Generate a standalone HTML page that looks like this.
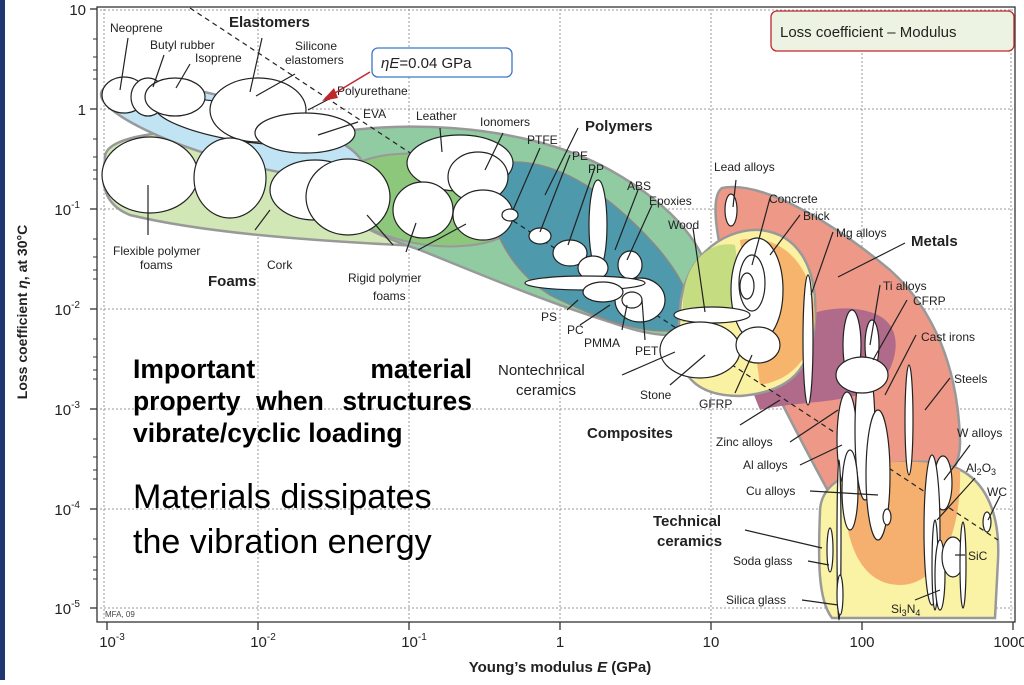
<!DOCTYPE html>
<html><head><meta charset="utf-8"><style>
html,body{margin:0;padding:0;background:#fff;}
body{width:1024px;height:680px;overflow:hidden;position:relative;font-family:"Liberation Sans",sans-serif;}
svg text{font-family:"Liberation Sans",sans-serif;}
</style></head><body>
<svg width="1024" height="680" viewBox="0 0 1024 680" xmlns="http://www.w3.org/2000/svg">
<rect x="0" y="0" width="5" height="680" fill="#1f3670"/>
<g stroke="#999" stroke-dasharray="2,2" stroke-width="1">
<line x1="258" y1="9" x2="258" y2="620"/><line x1="409" y1="9" x2="409" y2="620"/><line x1="560" y1="9" x2="560" y2="620"/><line x1="711" y1="9" x2="711" y2="620"/><line x1="862" y1="9" x2="862" y2="620"/>
<line x1="100" y1="109" x2="1013" y2="109"/><line x1="100" y1="209" x2="1013" y2="209"/><line x1="100" y1="309" x2="1013" y2="309"/><line x1="100" y1="409" x2="1013" y2="409"/><line x1="100" y1="509" x2="1013" y2="509"/><line x1="100" y1="608" x2="1013" y2="608"/>
<line x1="100" y1="10" x2="1013" y2="10"/><line x1="1011" y1="9" x2="1011" y2="620"/><line x1="104" y1="9" x2="104" y2="620"/>
</g>
<rect x="97" y="7" width="918" height="615" fill="none" stroke="#333" stroke-width="1.3"/>
<g stroke="#333" stroke-width="1.3">
<line x1="90" y1="9" x2="97" y2="9"/><line x1="90" y1="109" x2="97" y2="109"/><line x1="90" y1="209" x2="97" y2="209"/><line x1="90" y1="309" x2="97" y2="309"/><line x1="90" y1="409" x2="97" y2="409"/><line x1="90" y1="509" x2="97" y2="509"/><line x1="90" y1="608" x2="97" y2="608"/>
<line x1="107" y1="622" x2="107" y2="630"/><line x1="258" y1="622" x2="258" y2="630"/><line x1="409" y1="622" x2="409" y2="630"/><line x1="560" y1="622" x2="560" y2="630"/><line x1="711" y1="622" x2="711" y2="630"/><line x1="862" y1="622" x2="862" y2="630"/><line x1="1013" y1="622" x2="1013" y2="630"/>
</g>
<g stroke="#333" stroke-width="1">
<line x1="93" y1="39" x2="97" y2="39"/><line x1="93" y1="57" x2="97" y2="57"/><line x1="93" y1="70" x2="97" y2="70"/><line x1="93" y1="79" x2="97" y2="79"/>
<line x1="93" y1="139" x2="97" y2="139"/><line x1="93" y1="157" x2="97" y2="157"/><line x1="93" y1="170" x2="97" y2="170"/><line x1="93" y1="179" x2="97" y2="179"/>
<line x1="93" y1="239" x2="97" y2="239"/><line x1="93" y1="257" x2="97" y2="257"/><line x1="93" y1="270" x2="97" y2="270"/><line x1="93" y1="279" x2="97" y2="279"/>
<line x1="93" y1="339" x2="97" y2="339"/><line x1="93" y1="357" x2="97" y2="357"/><line x1="93" y1="370" x2="97" y2="370"/><line x1="93" y1="379" x2="97" y2="379"/>
<line x1="93" y1="439" x2="97" y2="439"/><line x1="93" y1="457" x2="97" y2="457"/><line x1="93" y1="470" x2="97" y2="470"/><line x1="93" y1="479" x2="97" y2="479"/>
<line x1="93" y1="539" x2="97" y2="539"/><line x1="93" y1="557" x2="97" y2="557"/><line x1="93" y1="570" x2="97" y2="570"/><line x1="93" y1="579" x2="97" y2="579"/>
</g>
<g font-size="15" fill="#222" text-anchor="end">
<text x="86" y="15">10</text><text x="86" y="115">1</text>
<text x="80" y="215">10<tspan font-size="10" dy="-7">-1</tspan></text>
<text x="80" y="315">10<tspan font-size="10" dy="-7">-2</tspan></text>
<text x="80" y="415">10<tspan font-size="10" dy="-7">-3</tspan></text>
<text x="80" y="515">10<tspan font-size="10" dy="-7">-4</tspan></text>
<text x="80" y="614">10<tspan font-size="10" dy="-7">-5</tspan></text>
</g>
<g font-size="15" fill="#222" text-anchor="middle">
<text x="112" y="647">10<tspan font-size="10" dy="-7">-3</tspan></text>
<text x="263" y="647">10<tspan font-size="10" dy="-7">-2</tspan></text>
<text x="414" y="647">10<tspan font-size="10" dy="-7">-1</tspan></text>
<text x="560" y="647">1</text><text x="711" y="647">10</text><text x="862" y="647">100</text><text x="1010" y="647">1000</text>
</g>
<text x="560" y="672" font-size="15" font-weight="bold" text-anchor="middle" fill="#222">Young’s modulus <tspan font-style="italic">E</tspan> (GPa)</text>
<text transform="translate(27,312) rotate(-90)" font-size="14" font-weight="bold" text-anchor="middle" fill="#222">Loss coefficient <tspan font-style="italic">η</tspan>, at 30°C</text>

<path d="M105,160 C100,130 200,125 320,135 C420,145 500,170 515,205 C520,240 480,250 400,245 C300,240 200,232 130,215 C105,205 100,185 105,160 Z" fill="#d2e7b6" stroke="#999" stroke-width="2.5"/>
<path d="M300,140 C380,118 520,120 610,170 C690,215 725,270 705,320 C695,340 660,340 610,322 C540,300 470,270 420,250 C360,230 300,200 300,140 Z" fill="#90cba2" stroke="#999" stroke-width="2.5"/>
<ellipse cx="430" cy="200" rx="95" ry="45" transform="rotate(8 430 200)" fill="#8cc77c" stroke="#999" stroke-width="2"/>
<path d="M490,165 C550,150 610,195 655,245 C690,285 700,320 680,330 C640,336 590,315 550,295 C510,270 480,220 490,165 Z" fill="#4e9aac" stroke="#888" stroke-width="1.5"/>
<ellipse cx="232" cy="130" rx="136" ry="30" transform="rotate(16 232 130)" fill="#c0e4f4" stroke="#999" stroke-width="2.5"/>
<path d="M722,188 C760,180 830,220 890,270 C935,310 958,370 960,440 C962,480 920,520 870,520 L833,500 C800,440 770,380 745,330 C725,280 705,200 722,188 Z" fill="#ee9888" stroke="#999" stroke-width="2.5"/>
<path d="M740,360 C780,318 830,300 870,312 C905,322 900,360 880,385 C850,405 800,400 760,410 Z" fill="#b06a8a"/>
<path d="M680,315 C680,262 720,228 760,230 C800,234 818,270 815,320 C812,370 790,392 740,396 C690,396 672,370 680,315 Z" fill="#fbf1a2" stroke="#999" stroke-width="2.5"/>
<path d="M740,240 C780,232 815,265 815,320 C812,360 790,380 760,385 Z" fill="#f6b46c"/>
<path d="M683,300 C685,262 710,240 735,245 L745,320 L682,322 Z" fill="#c6dc80"/>
<path d="M820,512 C820,472 880,460 930,462 C990,466 1000,520 998,560 L995,618 L832,618 C818,600 818,560 820,512 Z" fill="#faf3a5" stroke="#999" stroke-width="2.5"/>
<path d="M845,470 C880,460 930,458 960,470 C962,530 940,585 900,585 C860,585 840,540 845,470 Z" fill="#f5b070"/>

<line x1="190" y1="8" x2="998" y2="540" stroke="#222" stroke-width="1.2" stroke-dasharray="5,4"/>

<g fill="#fff" stroke="#222" stroke-width="1.2">
<ellipse cx="235" cy="122" rx="80" ry="18" transform="rotate(10 235 122)"/>
<ellipse cx="124" cy="95" rx="22" ry="18"/>
<ellipse cx="148" cy="97" rx="17" ry="19"/>
<ellipse cx="175" cy="97" rx="30" ry="19"/>
<ellipse cx="258" cy="110" rx="48" ry="32"/>
<ellipse cx="305" cy="133" rx="50" ry="20"/>
<ellipse cx="150" cy="175" rx="48" ry="38"/>
<ellipse cx="230" cy="178" rx="36" ry="40"/>
<ellipse cx="315" cy="190" rx="45" ry="30"/>
<ellipse cx="348" cy="197" rx="42" ry="38"/>
<ellipse cx="460" cy="163" rx="53" ry="28"/>
<ellipse cx="478" cy="177" rx="30" ry="25"/>
<ellipse cx="423" cy="210" rx="30" ry="28"/>
<ellipse cx="483" cy="215" rx="30" ry="25"/>
<ellipse cx="510" cy="215" rx="8" ry="6"/>
<ellipse cx="540" cy="236" rx="11" ry="8"/>
<ellipse cx="598" cy="225" rx="9" ry="45"/>
<ellipse cx="570" cy="253" rx="17" ry="13"/>
<ellipse cx="593" cy="268" rx="15" ry="12"/>
<ellipse cx="630" cy="265" rx="12" ry="14"/>
<ellipse cx="640" cy="300" rx="25" ry="22"/>
<ellipse cx="585" cy="283" rx="60" ry="7"/>
<ellipse cx="603" cy="292" rx="20" ry="10"/>
<ellipse cx="632" cy="300" rx="10" ry="8"/>
<ellipse cx="731" cy="210" rx="6" ry="16"/>
<ellipse cx="757" cy="290" rx="26" ry="52"/>
<ellipse cx="752" cy="283" rx="13" ry="28"/>
<ellipse cx="747" cy="286" rx="7" ry="13"/>
<ellipse cx="712" cy="315" rx="38" ry="8"/>
<ellipse cx="700" cy="350" rx="40" ry="28"/>
<ellipse cx="758" cy="345" rx="22" ry="18"/>
<ellipse cx="808" cy="340" rx="5" ry="65"/>
<ellipse cx="852" cy="345" rx="9" ry="35"/>
<ellipse cx="872" cy="345" rx="7" ry="25"/>
<ellipse cx="847" cy="440" rx="10" ry="48"/>
<ellipse cx="865" cy="430" rx="10" ry="70"/>
<ellipse cx="850" cy="490" rx="8" ry="40"/>
<ellipse cx="878" cy="475" rx="12" ry="65"/>
<ellipse cx="887" cy="517" rx="4" ry="8"/>
<ellipse cx="862" cy="375" rx="26" ry="18"/>
<ellipse cx="909" cy="420" rx="4" ry="55"/>
<ellipse cx="943" cy="483" rx="9" ry="27"/>
<ellipse cx="932" cy="530" rx="8" ry="75"/>
<ellipse cx="935" cy="565" rx="3" ry="45"/>
<ellipse cx="940" cy="575" rx="5" ry="35"/>
<ellipse cx="953" cy="557" rx="11" ry="20"/>
<ellipse cx="963" cy="565" rx="3" ry="43"/>
<ellipse cx="987" cy="522" rx="4" ry="10"/>
<ellipse cx="830" cy="550" rx="3" ry="22"/>
<ellipse cx="839" cy="540" rx="2" ry="80"/>
<ellipse cx="840" cy="595" rx="3" ry="20"/>
</g>

<g stroke="#222" stroke-width="1.2">
<line x1="128" y1="38" x2="120" y2="90"/><line x1="164" y1="55" x2="153" y2="87"/><line x1="190" y1="64" x2="176" y2="88"/>
<line x1="262" y1="38" x2="250" y2="92"/><line x1="295" y1="74" x2="256" y2="96"/><line x1="331" y1="98" x2="308" y2="110"/><line x1="358" y1="122" x2="318" y2="135"/>
<line x1="440" y1="128" x2="442" y2="152"/><line x1="503" y1="133" x2="485" y2="170"/><line x1="540" y1="148" x2="513" y2="210"/>
<line x1="578" y1="128" x2="545" y2="195"/><line x1="570" y1="155" x2="540" y2="232"/><line x1="595" y1="167" x2="568" y2="245"/><line x1="638" y1="190" x2="615" y2="250"/><line x1="652" y1="205" x2="627" y2="260"/>
<line x1="693" y1="228" x2="705" y2="312"/>
<line x1="148" y1="235" x2="148" y2="185"/><line x1="255" y1="230" x2="270" y2="210"/>
<line x1="393" y1="245" x2="367" y2="215"/><line x1="406" y1="252" x2="416" y2="223"/><line x1="418" y1="250" x2="466" y2="224"/>
<line x1="567" y1="310" x2="578" y2="300"/><line x1="580" y1="325" x2="610" y2="305"/><line x1="622" y1="330" x2="627" y2="305"/><line x1="645" y1="340" x2="642" y2="300"/>
<line x1="622" y1="375" x2="675" y2="352"/><line x1="670" y1="385" x2="705" y2="355"/><line x1="735" y1="393" x2="752" y2="355"/><line x1="740" y1="425" x2="780" y2="400"/>
<line x1="736" y1="180" x2="733" y2="207"/><line x1="770" y1="198" x2="752" y2="265"/><line x1="800" y1="215" x2="770" y2="255"/><line x1="833" y1="232" x2="811" y2="295"/><line x1="905" y1="243" x2="838" y2="277"/>
<line x1="880" y1="285" x2="870" y2="345"/><line x1="907" y1="300" x2="873" y2="360"/><line x1="916" y1="335" x2="885" y2="395"/><line x1="950" y1="378" x2="925" y2="410"/>
<line x1="790" y1="442" x2="838" y2="410"/><line x1="800" y1="465" x2="842" y2="445"/><line x1="810" y1="491" x2="878" y2="495"/>
<line x1="970" y1="445" x2="944" y2="480"/><line x1="975" y1="478" x2="937" y2="520"/><line x1="1000" y1="496" x2="988" y2="520"/>
<line x1="965" y1="555" x2="955" y2="555"/><line x1="915" y1="600" x2="940" y2="590"/>
<line x1="745" y1="530" x2="822" y2="548"/><line x1="808" y1="561" x2="829" y2="565"/><line x1="802" y1="600" x2="838" y2="605"/>
</g>

<g font-size="12" fill="#222">
<text x="110" y="32">Neoprene</text><text x="150" y="49">Butyl rubber</text><text x="195" y="62">Isoprene</text>
<text x="295" y="50">Silicone</text><text x="285" y="64">elastomers</text>
<text x="337" y="95">Polyurethane</text><text x="363" y="118">EVA</text>
<text x="416" y="120">Leather</text><text x="480" y="126">Ionomers</text><text x="527" y="144">PTFE</text>
<text x="572" y="160">PE</text><text x="588" y="173">PP</text><text x="627" y="190">ABS</text><text x="649" y="205">Epoxies</text><text x="668" y="229">Wood</text>
<text x="113" y="255">Flexible polymer</text><text x="140" y="269">foams</text><text x="267" y="269">Cork</text>
<text x="348" y="282">Rigid polymer</text><text x="373" y="300">foams</text>
<text x="541" y="321">PS</text><text x="567" y="334">PC</text><text x="584" y="347">PMMA</text><text x="635" y="355">PET</text>
<text x="640" y="399">Stone</text><text x="699" y="408">GFRP</text>
<text x="714" y="171">Lead alloys</text><text x="769" y="203">Concrete</text><text x="803" y="220">Brick</text><text x="836" y="237">Mg alloys</text>
<text x="883" y="290">Ti alloys</text><text x="913" y="305">CFRP</text><text x="921" y="341">Cast irons</text><text x="954" y="383">Steels</text>
<text x="716" y="446">Zinc alloys</text><text x="743" y="469">Al alloys</text><text x="746" y="495">Cu alloys</text>
<text x="957" y="437">W alloys</text><text x="966" y="472">Al<tspan font-size="9" dy="3">2</tspan><tspan dy="-3">O</tspan><tspan font-size="9" dy="3">3</tspan></text><text x="987" y="496">WC</text>
<text x="968" y="560">SiC</text><text x="891" y="613">Si<tspan font-size="9" dy="3">3</tspan><tspan dy="-3">N</tspan><tspan font-size="9" dy="3">4</tspan></text>
<text x="733" y="565">Soda glass</text><text x="726" y="604">Silica glass</text>
</g>
<g font-size="15" font-weight="bold" fill="#222">
<text x="229" y="27">Elastomers</text><text x="585" y="131">Polymers</text><text x="208" y="286">Foams</text>
<text x="911" y="246">Metals</text><text x="587" y="438">Composites</text>
<text x="653" y="526">Technical</text><text x="657" y="546">ceramics</text>
</g>
<g font-size="15" fill="#222"><text x="498" y="375">Nontechnical</text><text x="516" y="395">ceramics</text></g>
<text x="105" y="617" font-size="8" fill="#444">MFA, 09</text>

<rect x="771" y="11" width="243" height="40" rx="6" fill="#edf3e2" stroke="#c0272d" stroke-width="1.3"/>
<text x="780" y="37" font-size="15" fill="#222">Loss coefficient – Modulus</text>
<rect x="372" y="48" width="140" height="29" rx="6" fill="#fff" stroke="#3a77c9" stroke-width="1.3"/>
<text x="381" y="68" font-size="15" fill="#222"><tspan font-style="italic">ηE</tspan>=0.04 GPa</text>
<line x1="370" y1="72" x2="330" y2="96" stroke="#c0272d" stroke-width="1.5"/>
<polygon points="322,101 334,88 338,98" fill="#c0272d"/>

<g font-size="26.5" font-weight="bold" fill="#000">
<text x="133" y="378">Important</text><text x="472" y="378" text-anchor="end">material</text>
<text x="133" y="410">property</text><text x="290" y="410" text-anchor="middle">when</text><text x="472" y="410" text-anchor="end">structures</text>
<text x="133" y="442">vibrate/cyclic loading</text>
</g>
<g font-size="34" fill="#000"><text x="133" y="508">Materials dissipates</text><text x="133" y="553">the vibration energy</text></g>
</svg>
</body></html>
